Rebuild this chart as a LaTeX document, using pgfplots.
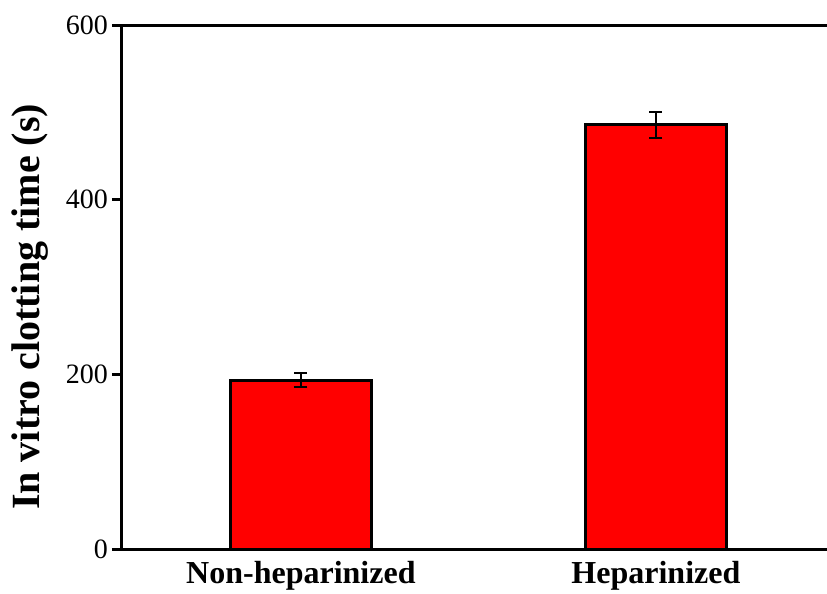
\documentclass[border=0pt]{standalone}
\usepackage{pgfplots}
\pgfplotsset{compat=1.18}
\usepackage{fontspec}
\setmainfont{Liberation Serif}

\begin{document}
\begin{tikzpicture}
\useasboundingbox (-122pt,-45pt) rectangle (705pt,549pt);
\begin{axis}[
  scale only axis,
  width=705pt, height=524pt,
  at={(0,0)}, anchor=south west,
  xmin=0.496, xmax=2.482,
  ymin=0, ymax=600,
  axis x line*=box,
  axis y line*=left,
  axis line style={line width=3pt},
  xtick={1,2},
  xticklabels={Non-heparinized, Heparinized},
  x tick style={draw=none},
  ytick={0,200,400,600},
  y tick style={line width=3pt, black},
  tick align=outside,
  major tick length=10pt,
  minor tick num=0,
  /pgf/number format/assume math mode=true,
  yticklabel style={font=\fontsize{28}{30}\selectfont, inner sep=0pt, xshift=-4pt},
  xticklabel style={font=\fontsize{32}{34}\selectfont\bfseries, inner sep=0pt, anchor=north, yshift=-2pt},
  ylabel={In vitro clotting time (s)},
  every axis y label/.style={at={(axis description cs:0,0.462)}, xshift=-92pt, rotate=90, anchor=center,
    font=\fontsize{40}{44}\selectfont\bfseries},
  ybar, bar width=141pt,
  clip=false,
]
\addplot[
  draw=black, line width=3pt, fill={rgb,255:red,255;green,0;blue,0},
  error bars/.cd, y dir=both, y explicit,
  error bar style={line width=2pt, black},
  error mark options={rotate=90, mark size=6.5pt, line width=2pt, black},
] coordinates {
  (1,193.5) +- (0,8.5)
  (2,485.5) +- (0,15)
};
\end{axis}
\end{tikzpicture}
\end{document}
